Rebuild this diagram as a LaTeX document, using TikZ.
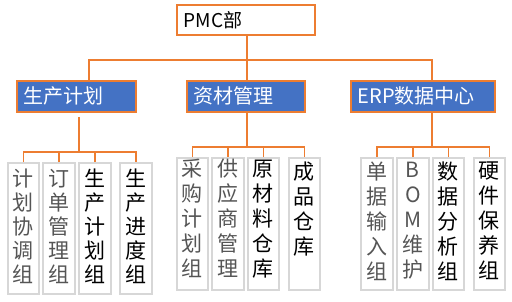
\documentclass[tikz,border=0pt]{standalone}
\usepackage{fontspec}
\setmainfont{Noto Sans CJK SC}
\definecolor{orng}{RGB}{237,125,49}
\definecolor{blu}{RGB}{68,114,196}
\definecolor{gbox}{RGB}{215,215,215}
\definecolor{thintext}{RGB}{85,85,85}
% #1 width, #2 height, #3 top pad, #4 baselineskip, #5 text
\newcommand{\vcol}[5]{\parbox[t][#2][t]{#1}{\centering\fontsize{21}{#4}\selectfont\vspace*{#3}#5}}
\begin{document}
\begin{tikzpicture}[x=1pt,y=-1pt,
  conn/.style={draw=orng,line width=1.6pt},
  topbox/.style={draw=orng,line width=1.6pt,fill=white,anchor=north west,
    inner xsep=7pt,inner ysep=0pt,minimum height=30pt,text width=124pt,align=left,
    font=\fontsize{19}{22}\selectfont},
  bluebox/.style={draw=orng,line width=1.6pt,fill=blu,text=white,anchor=north west,
    inner xsep=7pt,inner ysep=0pt,minimum height=31pt,align=left,
    font=\fontsize{20}{24}\selectfont},
  subbox/.style={draw=gbox,line width=1.6pt,fill=white,anchor=north west,inner sep=0pt},
  thin/.style={text=thintext},
  thick/.style={text=black}
]
\useasboundingbox (0,0) rectangle (512,301);

% top
\node[topbox] (pmc) at (176,4) {PMC部};

% second level
\node[bluebox,text width=105pt] (sc) at (16,80) {生产计划};
\node[bluebox,text width=104pt] (zc) at (186,80) {资材管理};
\node[bluebox,text width=130pt] (erp) at (350,80) {ERP数据中心};

% third level: production planning
\node[subbox,thin]  (a1) at (7,162)   {\vcol{31pt}{131pt}{6pt}{24pt}{计\\划\\协\\调\\组}};
\node[subbox,thin]  (a2) at (42,162)  {\vcol{32pt}{131pt}{6pt}{24pt}{订\\单\\管\\理\\组}};
\node[subbox,thick] (a3) at (78,162)  {\vcol{32pt}{131pt}{6pt}{24pt}{生\\产\\计\\划\\组}};
\node[subbox,thick] (a4) at (119,162) {\vcol{32pt}{131pt}{6pt}{24pt}{生\\产\\进\\度\\组}};

% materials
\node[subbox,thin]  (b1) at (176,157) {\vcol{31pt}{132pt}{1pt}{25pt}{采\\购\\计\\划\\组}};
\node[subbox,thin]  (b2) at (211,157) {\vcol{32pt}{132pt}{1pt}{25pt}{供\\应\\商\\管\\理}};
\node[subbox,thick] (b3) at (247,157) {\vcol{31pt}{132pt}{2pt}{25pt}{原\\材\\料\\仓\\库}};
\node[subbox,thick] (b4) at (288,157) {\vcol{31pt}{132pt}{4pt}{25pt}{成\\品\\仓\\库}};

% ERP
\node[subbox,thin]  (c1) at (360,157) {\vcol{32pt}{132pt}{4pt}{25pt}{单\\据\\输\\入\\组}};
\node[subbox,thin]  (c2) at (396,157) {\vcol{32pt}{132pt}{4pt}{25pt}{B\\O\\M\\维\\护}};
\node[subbox,thick] (c3) at (432,157) {\vcol{31pt}{132pt}{4pt}{25pt}{数\\据\\分\\析\\组}};
\node[subbox,thick] (c4) at (473,157) {\vcol{31pt}{132pt}{4pt}{25pt}{硬\\件\\保\\养\\组}};

% connectors top -> second level
\coordinate (bus0) at (247,60);
\draw[conn] (bus0 |- pmc.south) -- (bus0);
\draw[conn] (89,0 |- sc.north) -- (89,0 |- bus0) -- (432,0 |- bus0) -- (432,0 |- erp.north);
\draw[conn] (bus0) -- (bus0 |- zc.north);

% production planning group
\coordinate (busA) at (79,152);
\draw[conn] (busA |- 0,117) -- (busA);
\draw[conn] (a1.north) -- (a1.north |- busA) -- (a4.north |- busA) -- (a4.north);
\draw[conn] (a2.north) -- (a2.north |- busA);
\draw[conn] (a3.north) -- (a3.north |- busA);

% materials group
\coordinate (busB) at (247,147);
\draw[conn] (busB |- zc.south) -- (busB);
\draw[conn] (b1.north) -- (b1.north |- busB) -- (b4.north |- busB) -- (b4.north);
\draw[conn] (b2.north) -- (b2.north |- busB);
\draw[conn] (b3.north) -- (b3.north |- busB);

% ERP group
\coordinate (busC) at (432,147);
\draw[conn] (busC |- erp.south) -- (busC);
\draw[conn] (c1.north) -- (c1.north |- busC) -- (c4.north |- busC) -- (c4.north);
\draw[conn] (c2.north) -- (c2.north |- busC);
\draw[conn] (c3.north) -- (c3.north |- busC);
\end{tikzpicture}
\end{document}
